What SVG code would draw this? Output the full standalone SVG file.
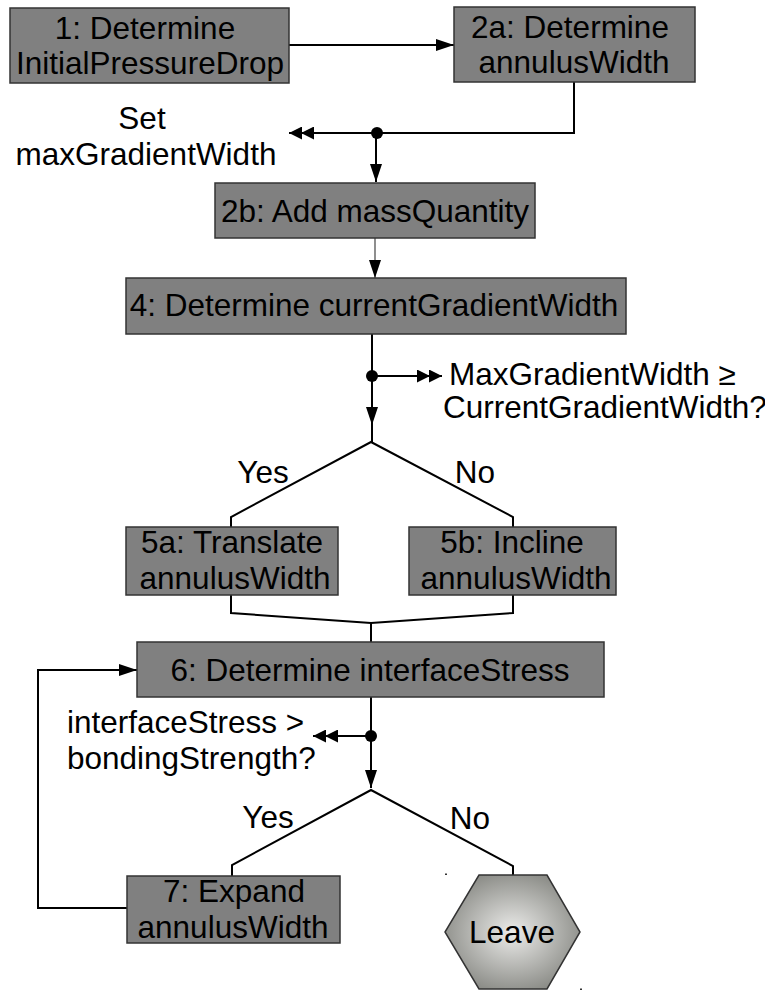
<svg xmlns="http://www.w3.org/2000/svg" width="765" height="992" viewBox="0 0 765 992">
<style>
.box{fill:#808080;stroke:#333;stroke-width:1.5}
.t{font-family:"Liberation Sans",Arial,sans-serif;font-size:31.5px;fill:#000}
.m{text-anchor:middle}
.c{fill:none;stroke:#000;stroke-width:2}
.thin{fill:none;stroke:#444;stroke-width:1.2}
</style>
<defs>
<marker id="arrow" viewBox="0 0 18 12" refX="18" refY="6" markerWidth="18" markerHeight="12" markerUnits="userSpaceOnUse" orient="auto">
<path d="M0,0 L18,6 L0,12 z" fill="#000"/>
</marker>
<marker id="dbl" viewBox="0 0 25 13" refX="25" refY="6.5" markerWidth="25" markerHeight="13" markerUnits="userSpaceOnUse" orient="auto">
<path d="M0,0 L13,6.5 L0,13 z M12,0 L25,6.5 L12,13 z" fill="#000"/>
</marker>
<radialGradient id="hexg" cx="50%" cy="50%" r="55%">
<stop offset="0" stop-color="#ececea"/>
<stop offset="1" stop-color="#8a8b86"/>
</radialGradient>
</defs>

<g id="connectors">
<path class="c" d="M289,45 H454" marker-end="url(#arrow)"/>
<path class="c" d="M574,82 V133 H377"/>
<path class="c" d="M377,133 H289" marker-end="url(#dbl)"/>
<path class="c" d="M376,133 V182" marker-end="url(#arrow)"/>
<circle cx="377" cy="133" r="6" fill="#000"/>
<path class="thin" d="M375,238 V278" marker-end="url(#arrow)"/>
<path class="c" d="M372,334 V376"/>
<path class="c" d="M372,376 H442" marker-end="url(#dbl)"/>
<path class="c" d="M372,376 V425" marker-end="url(#arrow)"/>
<circle cx="372" cy="376" r="6" fill="#000"/>
<path class="c" d="M372,424 V442"/>
<path class="c" d="M231,527 V517 L371,442 L513,517 V527"/>
<path class="c" d="M231,595 V613 L371,623 L513,613 V595"/>
<path class="c" d="M371,623 V642"/>
<path class="c" d="M371,697 V736"/>
<path class="c" d="M371,736 H313" marker-end="url(#dbl)"/>
<path class="c" d="M371,736 V788" marker-end="url(#arrow)"/>
<circle cx="371" cy="736" r="6" fill="#000"/>
<path class="c" d="M232,876 V865 L371,790 L513,866 V875"/>
<path class="c" d="M127,908 H38 V670 H137" marker-end="url(#arrow)"/>
</g>

<g id="labels">
<text class="t m" x="142" y="129">Set</text>
<text class="t m" x="146" y="165">maxGradientWidth</text>
<text class="t" x="449" y="385">MaxGradientWidth ≥</text>
<text class="t" x="443" y="418">CurrentGradientWidth?</text>
<text class="t m" x="263" y="483">Yes</text>
<text class="t m" x="475" y="483">No</text>
<text class="t" x="67" y="733">interfaceStress &gt;</text>
<text class="t" x="67" y="769">bondingStrength?</text>
<text class="t m" x="268" y="828">Yes</text>
<text class="t m" x="470" y="829">No</text>
</g>

<g id="n1">
<rect class="box" x="10" y="8" width="279" height="75"/>
<text class="t m" x="145" y="39">1: Determine</text>
<text class="t m" x="150" y="74">InitialPressureDrop</text>
</g>
<g id="n2a">
<rect class="box" x="454" y="7" width="241" height="75"/>
<text class="t m" x="570" y="38">2a: Determine</text>
<text class="t m" x="574" y="73">annulusWidth</text>
</g>
<g id="n2b">
<rect class="box" x="215" y="183" width="320" height="55"/>
<text class="t m" x="375" y="222">2b: Add massQuantity</text>
</g>
<g id="n4">
<rect class="box" x="126" y="278" width="500" height="56"/>
<text class="t m" x="374" y="316">4: Determine currentGradientWidth</text>
</g>
<g id="n5a">
<rect class="box" x="126" y="527" width="212" height="68"/>
<text class="t m" x="232" y="553">5a: Translate</text>
<text class="t m" x="235" y="589">annulusWidth</text>
</g>
<g id="n5b">
<rect class="box" x="409" y="527" width="207" height="68"/>
<text class="t m" x="512" y="553">5b: Incline</text>
<text class="t m" x="516" y="589">annulusWidth</text>
</g>
<g id="n6">
<rect class="box" x="137" y="642" width="467" height="55"/>
<text class="t m" x="370" y="681">6: Determine interfaceStress</text>
</g>
<g id="n7">
<rect class="box" x="127" y="876" width="213" height="67"/>
<text class="t m" x="234" y="902">7: Expand</text>
<text class="t m" x="233" y="938">annulusWidth</text>
</g>
<g id="leave">
<polygon points="479,875 547,875 580,932 547,989 479,989 445,932" fill="url(#hexg)" stroke="#333" stroke-width="1.5"/>
<text class="t m" x="512" y="943">Leave</text>
<rect x="445" y="873.5" width="2" height="1.5" fill="#333"/>
<rect x="580" y="988.5" width="2" height="1.5" fill="#333"/>
</g>
</svg>
